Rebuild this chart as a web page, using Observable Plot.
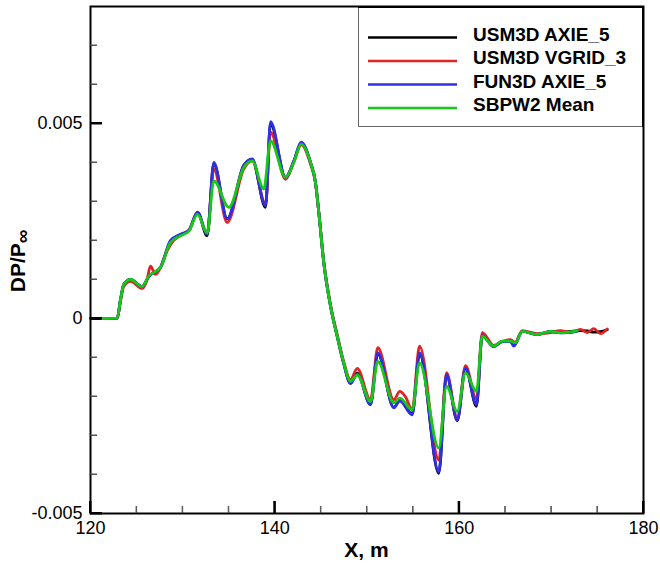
<!DOCTYPE html>
<html>
<head>
<meta charset="utf-8">
<script src="https://cdn.jsdelivr.net/npm/d3@7"></script>
<script src="https://cdn.jsdelivr.net/npm/@observablehq/plot@0.6"></script>
<style>
  html, body { margin: 0; padding: 0; background: #ffffff; }
  #chart { width: 660px; height: 565px; }
</style>
</head>
<body>
<div id="chart"></div>
<script>
// ---- Series names, colours, ticks ----
const seriesNames = ["USM3D AXIE_5", "USM3D VGRID_3", "FUN3D AXIE_5", "SBPW2 Mean"];
const seriesColors = ["#000000", "#e02424", "#2f2fe8", "#17c817"];
const xMajorTicks = [120, 140, 160, 180];
const xMinorTicks = [125, 130, 135, 145, 150, 155, 165, 170, 175];
const yMajorTicks = [-0.005, 0, 0.005];
const yMinorTicks = [-0.004, -0.003, -0.002, -0.001, 0.001, 0.002, 0.003, 0.004, 0.006, 0.007];
const yTickLabels = ["-0.005", "0", "0.005"];
const xTitle = "X, m";
const yTitleMain = "DP/P";
const yTitleSub = "\u221E";

// ---- USM3D AXIE_5 (black) ----
const axieX = [120.00,121.27,122.90,123.26,123.61,124.34,125.61,126.33,127.60,128.68,129.77,130.67,131.61,132.66,133.38,134.83,136.63,137.54,138.99,139.53,141.16,142.06,142.86,143.87,144.41,144.77,145.31,146.04,146.77,147.48,148.21,148.94,150.38,151.17,152.91,153.56,154.90,155.70,157.79,158.63,159.79,160.69,161.88,162.50,163.76,164.67,165.57,165.93,166.84,168.47,169.91,170.99,172.08,173.17,173.92,174.61,175.33,176.06];
const axieY = [0,0,0.01e-3,0.49e-3,0.87e-3,1.00e-3,0.82e-3,1.08e-3,1.31e-3,1.98e-3,2.15e-3,2.25e-3,2.72e-3,2.12e-3,3.98e-3,2.56e-3,3.92e-3,4.08e-3,2.85e-3,5.00e-3,3.62e-3,4.03e-3,4.50e-3,4.00e-3,3.49e-3,2.72e-3,1.43e-3,0.32e-3,-0.46e-3,-1.16e-3,-1.66e-3,-1.40e-3,-2.20e-3,-0.90e-3,-2.28e-3,-2.10e-3,-2.45e-3,-0.90e-3,-3.97e-3,-1.45e-3,-2.62e-3,-1.28e-3,-2.25e-3,-0.44e-3,-0.72e-3,-0.59e-3,-0.58e-3,-0.69e-3,-0.33e-3,-0.41e-3,-0.34e-3,-0.36e-3,-0.33e-3,-0.31e-3,-0.32e-3,-0.35e-3,-0.34e-3,-0.29e-3];

// ---- USM3D VGRID_3 (red) ----
const vgridX = [121.27,122.90,123.26,123.61,124.34,125.61,126.08,126.51,127.05,127.60,127.92,128.46,129.01,129.77,130.67,131.61,132.66,133.38,134.83,136.63,137.54,138.99,139.53,141.16,142.06,142.86,143.87,144.41,144.77,145.31,146.04,146.77,147.48,148.21,148.94,150.38,151.17,152.91,153.56,154.18,154.90,155.70,157.79,158.63,159.79,160.69,161.88,162.50,163.76,164.67,165.57,166.11,166.84,168.47,169.91,170.99,172.08,173.17,173.92,174.61,175.33,176.06];
const vgridY = [0,0.01e-3,0.45e-3,0.82e-3,0.95e-3,0.77e-3,0.95e-3,1.34e-3,1.13e-3,1.31e-3,1.52e-3,1.80e-3,2.00e-3,2.13e-3,2.26e-3,2.70e-3,2.18e-3,3.83e-3,2.46e-3,3.83e-3,4.04e-3,2.93e-3,4.78e-3,3.57e-3,4.01e-3,4.45e-3,3.96e-3,3.47e-3,2.73e-3,1.47e-3,0.36e-3,-0.41e-3,-1.11e-3,-1.57e-3,-1.28e-3,-2.08e-3,-0.75e-3,-2.08e-3,-1.87e-3,-2.01e-3,-2.34e-3,-0.71e-3,-3.63e-3,-1.39e-3,-2.55e-3,-1.21e-3,-2.08e-3,-0.36e-3,-0.69e-3,-0.59e-3,-0.54e-3,-0.62e-3,-0.31e-3,-0.39e-3,-0.36e-3,-0.31e-3,-0.36e-3,-0.28e-3,-0.36e-3,-0.26e-3,-0.39e-3,-0.27e-3];

// ---- FUN3D AXIE_5 (blue) ----
const fun3dX = [121.27,122.90,123.26,123.61,124.34,125.61,126.33,127.60,128.68,129.77,130.67,131.61,132.66,133.38,134.83,136.63,137.54,138.99,139.53,141.16,142.06,142.86,143.87,144.41,144.77,145.31,146.04,146.77,147.48,148.21,148.94,150.38,151.17,152.91,153.56,154.90,155.70,157.79,158.63,159.79,160.69,161.88,162.50,163.76,164.67,165.57,165.93,166.84,168.47,169.91,170.99,172.81];
const fun3dY = [0,0.01e-3,0.49e-3,0.87e-3,1.00e-3,0.82e-3,1.08e-3,1.31e-3,2.00e-3,2.16e-3,2.26e-3,2.73e-3,2.16e-3,4.00e-3,2.55e-3,3.93e-3,4.09e-3,2.89e-3,5.05e-3,3.62e-3,4.04e-3,4.52e-3,4.00e-3,3.49e-3,2.72e-3,1.43e-3,0.32e-3,-0.46e-3,-1.16e-3,-1.67e-3,-1.42e-3,-2.21e-3,-0.88e-3,-2.29e-3,-2.11e-3,-2.47e-3,-0.88e-3,-3.93e-3,-1.44e-3,-2.60e-3,-1.27e-3,-2.21e-3,-0.44e-3,-0.72e-3,-0.59e-3,-0.59e-3,-0.71e-3,-0.33e-3,-0.41e-3,-0.33e-3,-0.37e-3,-0.33e-3];

// ---- SBPW2 Mean (green) ----
const meanX = [121.27,122.90,123.26,123.61,124.34,125.61,126.33,127.60,128.68,129.77,130.67,131.61,132.66,133.38,135.01,136.63,137.54,138.80,139.53,141.16,142.06,142.86,143.87,144.41,144.77,145.31,146.04,146.77,147.48,148.21,148.94,150.38,151.17,152.91,153.56,154.90,155.70,157.79,158.63,159.79,160.69,161.88,162.50,163.76,164.67,165.57,166.11,166.84,168.47,169.91,170.99,172.81];
const meanY = [0,0.01e-3,0.49e-3,0.87e-3,1.00e-3,0.82e-3,1.09e-3,1.31e-3,1.95e-3,2.12e-3,2.24e-3,2.67e-3,2.19e-3,3.53e-3,2.85e-3,3.87e-3,4.04e-3,3.32e-3,4.56e-3,3.62e-3,4.00e-3,4.47e-3,4.00e-3,3.49e-3,2.72e-3,1.43e-3,0.32e-3,-0.46e-3,-1.14e-3,-1.61e-3,-1.45e-3,-2.13e-3,-1.10e-3,-2.16e-3,-2.04e-3,-2.34e-3,-1.14e-3,-3.32e-3,-1.74e-3,-2.38e-3,-1.40e-3,-1.87e-3,-0.46e-3,-0.71e-3,-0.58e-3,-0.58e-3,-0.62e-3,-0.33e-3,-0.41e-3,-0.33e-3,-0.37e-3,-0.32e-3];

const seriesX = [axieX, vgridX, fun3dX, meanX];
const seriesY = [axieY, vgridY, fun3dY, meanY];
const tables = seriesX.map((xs, s) => xs.map((x, i) => ({x, y: seriesY[s][i], series: seriesNames[s]})));

const fontFamily = "'Liberation Sans', Arial, Helvetica, sans-serif";

const chart = Plot.plot({
  width: 660,
  height: 565,
  marginLeft: 90,
  marginRight: 17,
  marginTop: 6,
  marginBottom: 52,
  style: {fontFamily, fontSize: "18px", color: "black", background: "white", overflow: "visible"},
  x: {domain: [120, 180], label: null},
  y: {domain: [-0.005, 0.008], label: null},
  marks: [
    ...tables.map((t, s) => Plot.line(t, {x: "x", y: "y", stroke: seriesColors[s], strokeWidth: 2.8, curve: "monotone-x"})),
    // minor ticks, shifted so they point into the frame
    Plot.axisX({ticks: xMinorTicks, tickSize: 7, dy: -7, text: null, label: null, stroke: "#555", strokeWidth: 1}),
    Plot.axisY({ticks: yMinorTicks, tickSize: 7, dx: 7, text: null, label: null, stroke: "#555", strokeWidth: 1}),
    // major ticks, pointing into the frame
    Plot.axisX({ticks: xMajorTicks, tickSize: 12, dy: -12, text: null, label: null, stroke: "black", strokeWidth: 2}),
    Plot.axisY({ticks: yMajorTicks, tickSize: 12, dx: 12, text: null, label: null, stroke: "black", strokeWidth: 2}),
    // tick labels
    Plot.axisX({ticks: xMajorTicks, tickSize: 0, tickPadding: 8, tickFormat: d => String(d), label: null}),
    Plot.axisY({ticks: yMajorTicks, tickSize: 0, tickPadding: 8, tickFormat: d => yTickLabels[yMajorTicks.indexOf(d)], label: null}),
    Plot.frame({stroke: "black", strokeWidth: 2})
  ]
});

document.getElementById("chart").appendChild(chart);

const svg = d3.select(chart);

// Backup inward ticks drawn from Plot's own scales
try {
  const sx = chart.scale("x"), sy = chart.scale("y");
  const x0 = sx.apply(120), yb = sy.apply(-0.005);
  const tg = svg.append("g").attr("fill", "none");
  xMinorTicks.forEach(v => tg.append("line").attr("x1", sx.apply(v)).attr("x2", sx.apply(v)).attr("y1", yb).attr("y2", yb - 7).attr("stroke", "#555").attr("stroke-width", 1));
  yMinorTicks.forEach(v => tg.append("line").attr("y1", sy.apply(v)).attr("y2", sy.apply(v)).attr("x1", x0).attr("x2", x0 + 7).attr("stroke", "#555").attr("stroke-width", 1));
  xMajorTicks.forEach(v => tg.append("line").attr("x1", sx.apply(v)).attr("x2", sx.apply(v)).attr("y1", yb).attr("y2", yb - 12).attr("stroke", "black").attr("stroke-width", 2));
  yMajorTicks.forEach(v => tg.append("line").attr("y1", sy.apply(v)).attr("y2", sy.apply(v)).attr("x1", x0).attr("x2", x0 + 12).attr("stroke", "black").attr("stroke-width", 2));
} catch (e) {}

// X title
svg.append("text")
  .attr("x", 366.5).attr("y", 556.5)
  .attr("text-anchor", "middle")
  .style("font-family", fontFamily).style("font-weight", "bold").style("font-size", "21px")
  .attr("fill", "black")
  .text(xTitle);

// Y title with subscript infinity
const yt = svg.append("text")
  .attr("transform", "translate(25,261) rotate(-90)")
  .attr("text-anchor", "middle")
  .style("font-family", fontFamily).style("font-weight", "bold").style("font-size", "21px")
  .attr("fill", "black");
yt.append("tspan").text(yTitleMain);
yt.append("tspan").attr("dy", 4).style("font-size", "19px").text(yTitleSub);

// Legend
const lg = svg.append("g");
lg.append("rect").attr("x", 358).attr("y", 7).attr("width", 285).attr("height", 120).attr("fill", "white");
lg.append("path").attr("d", "M358.5,7 V126.5 H643").attr("fill", "none").attr("stroke", "#666").attr("stroke-width", 1);
lg.append("path").attr("d", "M358,7 H643 V127").attr("fill", "none").attr("stroke", "black").attr("stroke-width", 2);
const rowY = [37.5, 61, 84.5, 108];
seriesNames.forEach((name, i) => {
  lg.append("line").attr("x1", 368).attr("x2", 457).attr("y1", rowY[i]).attr("y2", rowY[i])
    .attr("stroke", seriesColors[i]).attr("stroke-width", 2.5);
  lg.append("text").attr("x", 473).attr("y", rowY[i] + 3)
    .attr("text-anchor", "start")
    .style("font-family", fontFamily).style("font-weight", "bold").style("font-size", "19px")
    .attr("fill", "black").text(name);
});
</script>
</body>
</html>
